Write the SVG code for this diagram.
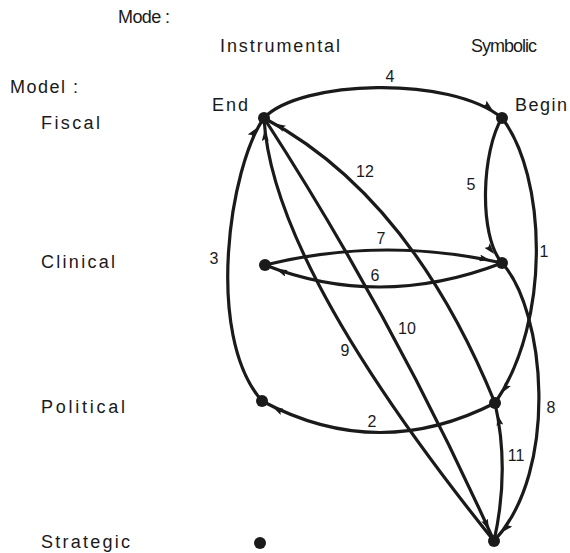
<svg xmlns="http://www.w3.org/2000/svg" width="570" height="553" viewBox="0 0 570 553">
<style>
.lbl{font-family:"Liberation Sans",Arial,sans-serif;font-size:18px;fill:#1a1a1a}
.num{font-family:"Liberation Sans",Arial,sans-serif;font-size:16px;fill:#1a1a1a;text-anchor:middle}
.edge{fill:none;stroke:#1a1a1a;stroke-width:3.2;stroke-linecap:round}
.dot{fill:#1a1a1a}
</style>
<defs>
<marker id="arr" markerUnits="userSpaceOnUse" markerWidth="11" markerHeight="7" viewBox="0 0 11 7" refX="23" refY="3.5" orient="auto">
<path d="M0,0 L11,3.5 L0,7 L2,3.5 z" fill="#1a1a1a"/>
</marker>
</defs>
<rect width="570" height="553" fill="#ffffff"/>
<g id="headers">
<text class="lbl" x="118" y="23" textLength="52" lengthAdjust="spacing">Mode :</text>
<text class="lbl" x="220" y="52" textLength="120" lengthAdjust="spacing">Instrumental</text>
<text class="lbl" x="471" y="52" textLength="66" lengthAdjust="spacing">Symbolic</text>
<text class="lbl" x="10" y="93" textLength="68" lengthAdjust="spacing">Model :</text>
<text class="lbl" x="41" y="129" textLength="59" lengthAdjust="spacing">Fiscal</text>
<text class="lbl" x="41" y="268" textLength="74" lengthAdjust="spacing">Clinical</text>
<text class="lbl" x="41" y="413" textLength="84" lengthAdjust="spacing">Political</text>
<text class="lbl" x="41" y="548" textLength="89" lengthAdjust="spacing">Strategic</text>
</g>
<g id="connectors">
<path id="e1" class="edge" marker-end="url(#arr)" d="M502,118 C546,175 552,320 495,403"/>
<path id="e2" class="edge" marker-end="url(#arr)" d="M495,403 Q378,463 262,401"/>
<path id="e3" class="edge" marker-end="url(#arr)" d="M262,401 C204,335 230,165 264,118"/>
<path id="e4" class="edge" marker-end="url(#arr)" d="M264,118 C300,80 450,75 502,118"/>
<path id="e5" class="edge" marker-end="url(#arr)" d="M502,118 C482,150 478,235 502,263"/>
<path id="e6" class="edge" marker-end="url(#arr)" d="M502,263 Q380,310 265,265"/>
<path id="e7" class="edge" marker-end="url(#arr)" d="M265,265 Q383,236 502,263"/>
<path id="e8" class="edge" marker-end="url(#arr)" d="M502,263 C545,310 560,470 494,541"/>
<path id="e9" class="edge" marker-end="url(#arr)" d="M494,541 Q272,265 264,118"/>
<path id="e10" class="edge" marker-end="url(#arr)" d="M264,118 Q394,319 494,541"/>
<path id="e11" class="edge" marker-end="url(#arr)" d="M494,541 Q510,470 495,403"/>
<path id="e12" class="edge" marker-end="url(#arr)" d="M495,403 Q410,195 264,118"/>
<text class="num" x="390" y="82">4</text>
<text class="num" x="365" y="177">12</text>
<text class="num" x="471" y="190">5</text>
<text class="num" x="381" y="244">7</text>
<text class="num" x="375" y="281">6</text>
<text class="num" x="214" y="264">3</text>
<text class="num" x="544" y="257">1</text>
<text class="num" x="407" y="334">10</text>
<text class="num" x="345" y="356">9</text>
<text class="num" x="551" y="413">8</text>
<text class="num" x="372" y="427">2</text>
<text class="num" x="516" y="461">11</text>
</g>
<g id="fiscal-instrumental"><circle class="dot" cx="264" cy="118" r="6"/><text class="lbl" x="212" y="111" textLength="36" lengthAdjust="spacing">End</text></g>
<g id="fiscal-symbolic"><circle class="dot" cx="502" cy="118" r="6"/><text class="lbl" x="515" y="111" textLength="52" lengthAdjust="spacing">Begin</text></g>
<g id="clinical-instrumental"><circle class="dot" cx="265" cy="265" r="6"/></g>
<g id="clinical-symbolic"><circle class="dot" cx="502" cy="263" r="6"/></g>
<g id="political-instrumental"><circle class="dot" cx="262" cy="401" r="6"/></g>
<g id="political-symbolic"><circle class="dot" cx="495" cy="403" r="6"/></g>
<g id="strategic-instrumental"><circle class="dot" cx="260" cy="543" r="6"/></g>
<g id="strategic-symbolic"><circle class="dot" cx="494" cy="541" r="6"/></g>
</svg>
